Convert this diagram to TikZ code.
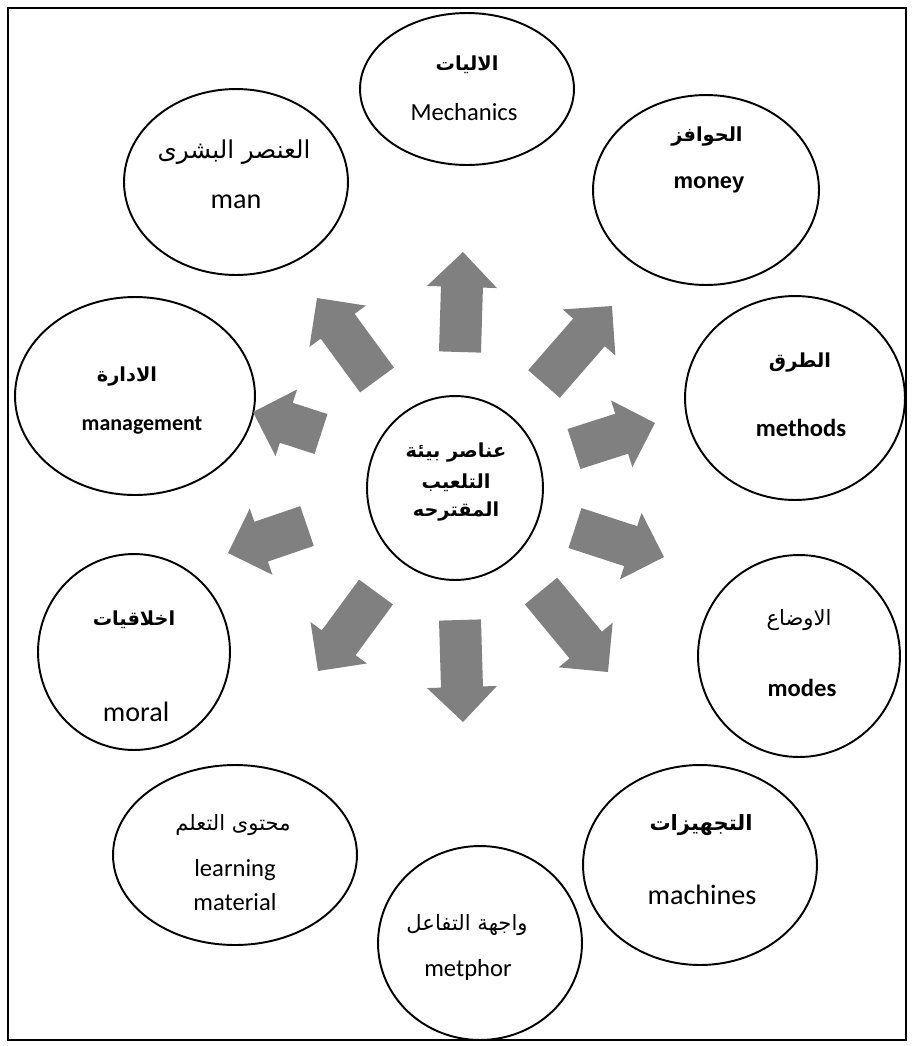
\documentclass[tikz,border=0pt]{standalone}
\usepackage{fontspec}
\setmainfont{Carlito}
\newfontfamily\arialfont{Liberation Sans}
\newfontfamily\arabicfont[Script=Arabic]{DejaVu Sans}
\TeXXeTstate=1
\usetikzlibrary{shapes.geometric}
\definecolor{arrowgray}{HTML}{808080}
\newcommand{\artext}[1]{{\arabicfont\beginR #1\endR}}

\begin{document}
\begin{tikzpicture}[x=0.02cm,y=-0.02cm,
	elem/.style={draw,ellipse,line width=1.1pt,inner sep=0pt},
	arb/.style={inner sep=0pt,font=\bfseries\fontsize{11}{13}\selectfont},
	arr/.style={inner sep=0pt,font=\fontsize{12}{14}\selectfont},
	enr/.style={inner sep=0pt,font=\fontsize{14}{16}\selectfont},
	enbig/.style={inner sep=0pt,font=\fontsize{16}{18}\selectfont},
	enb/.style={inner sep=0pt,font=\bfseries\fontsize{14}{16}\selectfont}]
		\useasboundingbox (0,0) rectangle (912,1046);
		\draw[line width=1.6pt] (8,8) rectangle (906,1040);

		\node[elem,minimum width=4.28cm,minimum height=3.04cm] (mech) at (467,89) {};
		\node[elem,minimum width=4.48cm,minimum height=3.72cm] (man) at (236,182) {};
		\node[elem,minimum width=4.52cm,minimum height=3.8cm] (money) at (706,190) {};
		\node[elem,minimum width=4.8cm,minimum height=3.96cm] (mgmt) at (135,396) {};
		\node[elem,minimum width=4.4cm,minimum height=4.08cm] (methods) at (795,398) {};
		\node[elem,minimum width=3.52cm,minimum height=3.68cm] (core) at (455,488) {};
		\node[elem,minimum width=3.84cm,minimum height=3.92cm] (moral) at (134,652) {};
		\node[elem,minimum width=4.04cm,minimum height=4.04cm] (modes) at (799,656) {};
		\node[elem,minimum width=4.88cm,minimum height=3.6cm] (learn) at (235,855) {};
		\node[elem,minimum width=4.68cm,minimum height=4cm] (machines) at (700,865) {};
		\node[elem,minimum width=4.08cm,minimum height=3.88cm] (metphor) at (480,943) {};

		\draw (467,65) node[arb] (mechAr) {\artext{الاليات}};
		\draw (464,112) node[enr] (mechEn) {Mechanics};
		\draw (234,152) node[arr,font=\fontsize{14}{16}\selectfont] (manAr) {\artext{العنصر البشرى}};
		\draw (236,202) node[enbig] (manEn) {man};
		\draw (707,137) node[arb] (moneyAr) {\artext{الحوافز}};
		\draw (709,185) node[enb,font=\arialfont\bfseries\fontsize{12.5}{15}\selectfont] (moneyEn) {money};
		\draw (127,377) node[arb] (mgmtAr) {\artext{الادارة}};
		\draw (142,425) node[enb,font=\bfseries\fontsize{12.5}{15}\selectfont] (mgmtEn) {management};
		\draw (800,363) node[arb] (methodsAr) {\artext{الطرق}};
		\draw (801,428) node[enb] (methodsEn) {methods};
		\draw (456,453) node[arb] (coreA) {\artext{عناصر بيئة}};
		\draw (456,483) node[arb] (coreB) {\artext{التلعيب}};
		\draw (456,512) node[arb] (coreC) {\artext{المقترحه}};
		\draw (134,620) node[arb] (moralAr) {\artext{اخلاقيات}};
		\draw (136,712) node[enbig] (moralEn) {moral};
		\draw (799,620) node[arr] (modesAr) {\artext{الاوضاع}};
		\draw (802,688) node[enb] (modesEn) {modes};
		\draw (233,825) node[arr] (learnAr) {\artext{محتوى التعلم}};
		\draw (235,870) node[enr] (learnA) {learning};
		\draw (235,902) node[enr] (learnB) {material};
		\draw (701,825) node[arb,font=\bfseries\fontsize{12}{14}\selectfont] (machinesAr) {\artext{التجهيزات}};
		\draw (702,895) node[enbig] (machinesEn) {machines};
		\draw (467,925) node[arr] (metphorAr) {\artext{واجهة التفاعل}};
		\draw (468,970) node[enr] (metphorEn) {metphor};

		\foreach \tx/\ty/\px/\py in {460/352/463/252, 544/384/612/306, 574/449/655/423, 575/528/664/557,
			541/591/608/672, 460/620/463/722, 376/592/318/671, 307/526/228/553, 321/434/253/412, 377/380/317/298}
		{
			\pgfmathsetmacro{\ang}{atan2(\ty-\py,\px-\tx)}
			\pgfmathsetmacro{\len}{veclen(\px-\tx,\py-\ty)}
			\fill[arrowgray,shift={(\tx,\ty)},rotate=\ang] (0,-21) -- (\len-35,-21) -- (\len-35,-35) -- (\len,0)
				-- (\len-35,35) -- (\len-35,21) -- (0,21) -- cycle;
		}
\end{tikzpicture}
\end{document}
